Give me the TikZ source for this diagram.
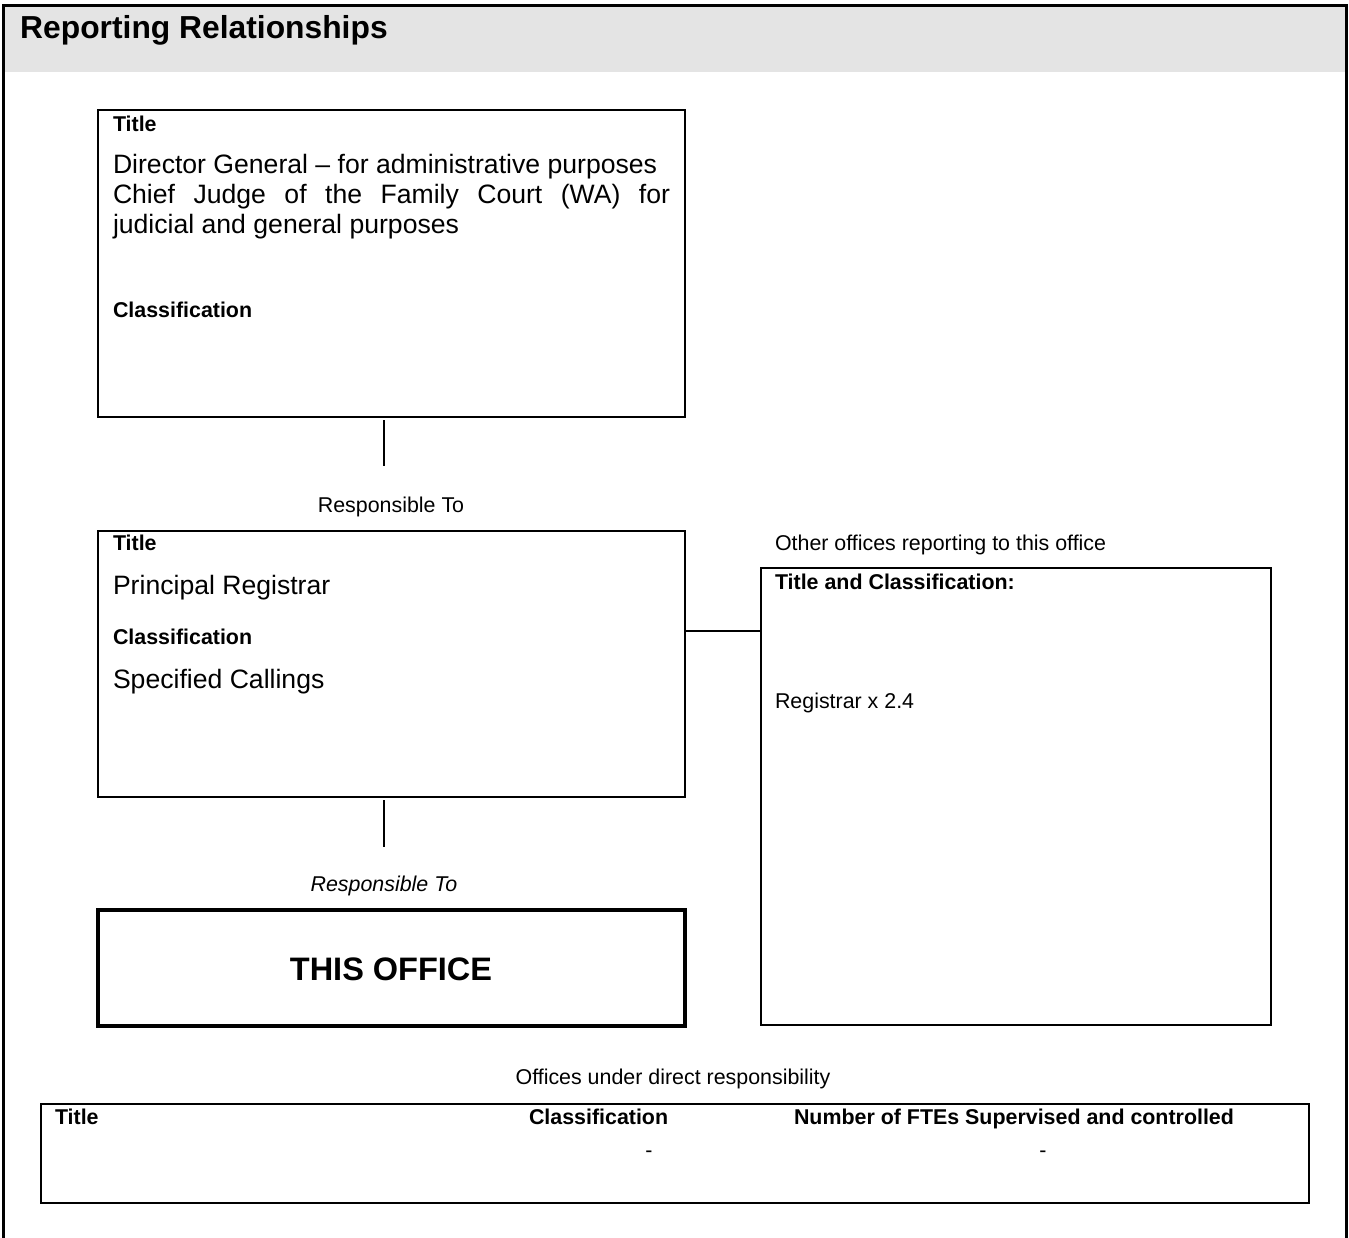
\documentclass[tikz,border=0pt]{standalone}
\usepackage{fontspec}
\setmainfont{Liberation Sans}
\definecolor{bandgray}{HTML}{E4E4E4}
\tikzset{
  x=1pt, y=-1pt,
  boxframe/.style={draw=black, line width=1.8pt, inner sep=0pt, outer sep=0pt, anchor=north west},
  lbl/.style={inner sep=0pt, outer sep=0pt, anchor=base west, font=\fontsize{21.4}{25}\selectfont\bfseries},
  small/.style={inner sep=0pt, outer sep=0pt, font=\fontsize{21.4}{25}\selectfont},
  body/.style={inner sep=0pt, outer sep=0pt, anchor=base west, font=\fontsize{26.6}{30}\selectfont},
  conn/.style={draw=black, line width=1.5pt}
}
\begin{document}
\begin{tikzpicture}
\useasboundingbox (0,0) rectangle (1349,1237);
% header band and page frame
\fill[bandgray] (3,5) rectangle (1346,72);
\draw[line width=3pt] (3,1240) -- (3,5) -- (1346,5) -- (1346,1240);
\node[inner sep=0pt, anchor=base west, font=\fontsize{31.8}{36}\selectfont\bfseries] (hdr) at (20,38.5) {Reporting Relationships};

% box 1
\node[boxframe, minimum width=587pt, minimum height=307pt] (b1) at (98,110) {};
\node[lbl] (b1t) at (113,131.5) {Title};
\node[body] (b1l1) at (113,173.5) {Director General – for administrative purposes};
\node[body] (b1l2) at (113,203.5) {\makebox[557pt][s]{Chief Judge of the Family Court (WA) for}};
\node[body] (b1l3) at (113,233.5) {judicial and general purposes};
\node[lbl] (b1c) at (113,317.5) {Classification};

% connector 1
\coordinate (c1a) at (384,420);
\coordinate (c1b) at (384,466);
\draw[conn] (c1a) -- (c1b);
\node[small, anchor=base] (rt1) at (391,512.5) {Responsible To};

% box 2
\node[boxframe, minimum width=587pt, minimum height=266pt] (b2) at (98,531) {};
\node[lbl] (b2t) at (113,550.5) {Title};
\node[body] (b2n) at (113,594.5) {Principal Registrar};
\node[lbl] (b2c) at (113,644.5) {Classification};
\node[body] (b2cv) at (113,688.5) {Specified Callings};

% connector 2
\coordinate (c2a) at (384,800);
\coordinate (c2b) at (384,847);
\draw[conn] (c2a) -- (c2b);
\node[small, anchor=base, font=\fontsize{21.4}{25}\selectfont\itshape] (rt2) at (384,891.5) {Responsible To};

% this office
\node[boxframe, line width=3.5pt, minimum width=587pt, minimum height=116pt] (b3) at (98,910) {};
\node[inner sep=0pt, anchor=base, font=\fontsize{32.5}{38}\selectfont\bfseries] (b3txt) at (391,980) {THIS OFFICE};

% other offices
\node[small, anchor=base west] (oth) at (775,550.5) {Other offices reporting to this office};
\node[boxframe, minimum width=510pt, minimum height=457pt] (b4) at (761,568) {};
\node[lbl] (b4t) at (775,589.5) {Title and Classification:};
\node[small, anchor=base west] (b4r) at (775,708.5) {Registrar x 2.4};
\coordinate (hc) at (0,631);
\draw[conn] (b2.north east |- hc) -- (b4.north west |- hc);

% offices under direct responsibility
\node[small, anchor=base] (odr) at (673,1084.5) {Offices under direct responsibility};
\node[boxframe, minimum width=1268pt, minimum height=99pt] (b5) at (41,1104) {};
\node[lbl] (h1) at (55,1124.5) {Title};
\node[lbl] (h2) at (529,1124.5) {Classification};
\node[lbl] (h3) at (794,1124.5) {Number of FTEs Supervised and controlled};
\node[small, anchor=base] (d1) at (649,1157) {-};
\node[small, anchor=base] (d2) at (1043,1157) {-};
\end{tikzpicture}
\end{document}
